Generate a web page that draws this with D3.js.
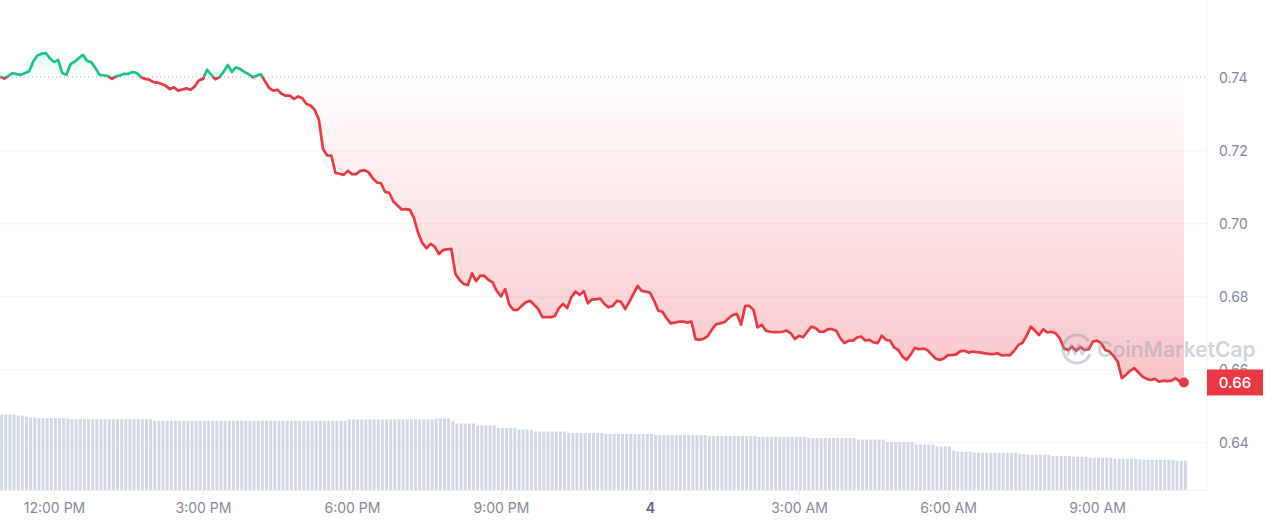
<!DOCTYPE html>
<html><head><meta charset="utf-8">
<script src="https://cdn.jsdelivr.net/npm/d3@7"></script>
<style>
html,body{margin:0;padding:0;background:#fff;}
svg{display:block;font-family:Inter,"Noto Sans",sans-serif;}
</style>
</head><body>
<svg id="chart" width="1265" height="522"></svg>
<script>
// ---- data (5-minute candles, first at 10:55 AM on the 3rd) ----
const startTime = new Date(2024, 5, 3, 10, 55);
const stepMinutes = 5;
const openPrice = 0.7402;
const prices = [
0.7404,0.7398,0.7405,0.7413,0.7410,0.7408,0.7413,0.7418,0.7445,0.7461,
0.7466,0.7468,0.7454,0.7443,0.7449,0.7413,0.7408,0.7438,0.7444,0.7454,
0.7463,0.7446,0.7443,0.7427,0.7408,0.7407,0.7405,0.7397,0.7404,0.7407,
0.7411,0.7411,0.7416,0.7413,0.7402,0.7397,0.7395,0.7388,0.7387,0.7383,
0.7378,0.7369,0.7374,0.7365,0.7368,0.7371,0.7367,0.7376,0.7393,0.7397,
0.7422,0.7408,0.7396,0.7402,0.7417,0.7435,0.7416,0.7429,0.7424,0.7416,
0.7410,0.7402,0.7406,0.7410,0.7390,0.7372,0.7365,0.7367,0.7356,0.7351,
0.7351,0.7342,0.7349,0.7344,0.7328,0.7324,0.7312,0.7285,0.7205,0.7187,
0.7187,0.7139,0.7137,0.7134,0.7145,0.7136,0.7136,0.7145,0.7147,0.7141,
0.7125,0.7113,0.7111,0.7087,0.7085,0.7061,0.7050,0.7039,0.7040,0.7038,
0.7015,0.6974,0.6947,0.6933,0.6945,0.6937,0.6917,0.6928,0.6930,0.6931,
0.6862,0.6846,0.6835,0.6832,0.6864,0.6843,0.6858,0.6857,0.6846,0.6839,
0.6815,0.6801,0.6821,0.6778,0.6764,0.6764,0.6775,0.6785,0.6789,0.6778,
0.6766,0.6744,0.6744,0.6744,0.6747,0.6769,0.6780,0.6769,0.6799,0.6814,
0.6805,0.6816,0.6782,0.6793,0.6793,0.6795,0.6780,0.6771,0.6775,0.6789,
0.6786,0.6766,0.6786,0.6808,0.6830,0.6816,0.6814,0.6811,0.6789,0.6762,
0.6759,0.6741,0.6727,0.6729,0.6732,0.6732,0.6729,0.6732,0.6684,0.6682,
0.6685,0.6693,0.6711,0.6725,0.6727,0.6731,0.6741,0.6750,0.6753,0.6723,
0.6775,0.6775,0.6764,0.6716,0.6723,0.6707,0.6704,0.6703,0.6703,0.6704,
0.6707,0.6700,0.6684,0.6693,0.6689,0.6704,0.6718,0.6714,0.6704,0.6704,
0.6711,0.6711,0.6707,0.6686,0.6673,0.6680,0.6680,0.6688,0.6691,0.6680,
0.6682,0.6675,0.6673,0.6693,0.6682,0.6680,0.6661,0.6654,0.6636,0.6627,
0.6642,0.6660,0.6656,0.6658,0.6654,0.6642,0.6631,0.6627,0.6631,0.6640,
0.6640,0.6642,0.6651,0.6652,0.6647,0.6650,0.6648,0.6647,0.6645,0.6643,
0.6643,0.6645,0.6639,0.6640,0.6640,0.6652,0.6668,0.6674,0.6693,0.6718,
0.6707,0.6695,0.6711,0.6702,0.6704,0.6700,0.6686,0.6659,0.6654,0.6663,
0.6652,0.6662,0.6654,0.6656,0.6677,0.6680,0.6673,0.6654,0.6650,0.6638,
0.6622,0.6577,0.6586,0.6597,0.6604,0.6593,0.6581,0.6575,0.6572,0.6575,
0.6567,0.6570,0.6569,0.6570,0.6577,0.6567,0.6565
];
const volumes = [
75.3,75.3,75.3,75.3,74.5,74.5,73.3,72.5,72.5,71.7,
71.7,71.7,71.7,71.7,71.7,71.7,71.7,70.7,70.7,70.7,
70.7,70.7,70.7,70.7,70.7,70.7,70.7,70.7,70.7,70.7,
70.7,70.7,70.7,70.7,70.7,70.7,70.7,69.3,69.3,69.3,
69.3,69.3,69.3,69.3,69.3,69.3,69.3,69.3,69.3,69.3,
69.3,69.3,69.3,69.3,69.3,69.3,69.3,69.3,69.3,69.3,
69.3,69.3,69.3,69.3,69.3,69.3,69.3,69.3,69.3,69.3,
69.3,69.3,69.3,69.3,69.3,69.3,69.3,69.3,69.3,69.3,
69.3,69.3,69.3,69.3,70.5,70.5,70.5,70.5,70.5,70.5,
70.5,70.5,70.5,70.5,70.5,70.5,70.5,70.5,70.5,70.5,
70.5,70.5,70.5,70.5,70.5,71.5,71.5,71.5,71.5,68.5,
66.5,66.5,66.5,66.5,66.5,64.5,64.5,64.5,64.5,64.5,
62,62,62,62,62,60.5,60.5,60.5,60.5,58.5,
58.5,58.5,58.5,58.5,58.5,58.5,58.5,57,57,57,
57,57,57,57,57,57,56,56,56,56,
56,56,56,56,56,56,56,56,55,55,
55,55,55,55,55,55,55,55,55,55,
55,54,54,54,54,54,54,54,54,54,
54,54,54,53,53,53,53,53,53,53,
53,53,53,53,53,52,52,52,52,52,
52,52,52,52,52,52,52,50.5,50.5,50.5,
50.5,50.5,50.5,50.5,48,48,48,48,48,48,
48,45.5,45.5,45.5,45.5,45.5,43.5,43.5,43.5,43.5,
39.3,38.3,38.3,38.3,38.3,37.3,37.3,37.3,37.3,37.3,
37.3,37.3,37.3,37.3,37.3,37.3,36,36,35.3,35.3,
35.3,35.3,35.3,35.3,34,34,34,34,34,33.3,
33.3,33.3,33.3,32.3,32.3,32.3,32.3,32.3,32.3,31.3,
31.3,31.3,31.3,31.3,31.3,30.3,30.3,30.3,30.3,30.3,
30.3,30.3,30.3,30.3,29.3,29.3,29.3
];
const priceTicks = [0.64, 0.66, 0.68, 0.70, 0.72, 0.74];
const timeTickValues = [
  new Date(2024,5,3,12,0), new Date(2024,5,3,15,0), new Date(2024,5,3,18,0), new Date(2024,5,3,21,0),
  new Date(2024,5,4,0,0), new Date(2024,5,4,3,0), new Date(2024,5,4,6,0), new Date(2024,5,4,9,0)
];
const timeTickLabels = ["12:00 PM","3:00 PM","6:00 PM","9:00 PM","4","3:00 AM","6:00 AM","9:00 AM"];
const lastPriceLabel = "0.66";
const watermarkText = "CoinMarketCap";

// ---- build ----
const RED = "#ea3943", GREEN = "#16c784";
const data = prices.map((p, i) => ({ t: new Date(+startTime + i * stepMinutes * 60000), p, v: volumes[i] }));

const svg = d3.select("#chart");
const W = 1265, H = 522, plotRight = 1207, volBottom = 490;

const x = d3.scaleTime().domain([timeTickValues[0], timeTickValues[7]]).range([54, 1097]);
const y = d3.scaleLinear().domain([0.64, 0.74]).range([442.7, 77.8]);
const yv = d3.scaleLinear().domain([0, 100]).range([volBottom, volBottom - 100]);
const yBase = y(openPrice);

const defs = svg.append("defs");
defs.append("clipPath").attr("id", "clipAbove").append("rect")
  .attr("x", 0).attr("y", 0).attr("width", plotRight).attr("height", yBase);
defs.append("clipPath").attr("id", "clipBelow").append("rect")
  .attr("x", 0).attr("y", yBase).attr("width", plotRight).attr("height", H - yBase);

const minP = d3.min(prices), maxP = d3.max(prices);
const gRed = defs.append("linearGradient").attr("id", "gradRed")
  .attr("gradientUnits", "userSpaceOnUse").attr("x1", 0).attr("x2", 0)
  .attr("y1", yBase).attr("y2", y(minP));
gRed.append("stop").attr("offset", 0).attr("stop-color", RED).attr("stop-opacity", 0.0);
gRed.append("stop").attr("offset", 1).attr("stop-color", RED).attr("stop-opacity", 0.29);
const gGreen = defs.append("linearGradient").attr("id", "gradGreen")
  .attr("gradientUnits", "userSpaceOnUse").attr("x1", 0).attr("x2", 0)
  .attr("y1", y(maxP)).attr("y2", yBase);
gGreen.append("stop").attr("offset", 0).attr("stop-color", GREEN).attr("stop-opacity", 0.14);
gGreen.append("stop").attr("offset", 1).attr("stop-color", GREEN).attr("stop-opacity", 0.01);

// gridlines
svg.append("g").selectAll("line").data(priceTicks.filter(d => d < 0.74)).join("line")
  .attr("x1", 0).attr("x2", plotRight)
  .attr("y1", d => y(d)).attr("y2", d => y(d))
  .attr("stroke", "#f1f3f6").attr("stroke-width", 1);

// volume bars
const step = x(data[1].t) - x(data[0].t);
svg.append("g").selectAll("rect").data(data).join("rect")
  .attr("x", d => x(d.t))
  .attr("y", d => yv(d.v))
  .attr("width", step * 0.7)
  .attr("height", d => volBottom - yv(d.v))
  .attr("fill", "#cfd6e4");

// areas
const area = d3.area().x(d => x(d.t)).y0(yBase).y1(d => y(d.p));
svg.append("path").datum(data).attr("d", area).attr("fill", "url(#gradRed)").attr("clip-path", "url(#clipBelow)");
svg.append("path").datum(data).attr("d", area).attr("fill", "url(#gradGreen)").attr("clip-path", "url(#clipAbove)");

// dotted baseline
svg.append("line").attr("x1", 0).attr("x2", plotRight).attr("y1", yBase).attr("y2", yBase)
  .attr("stroke", "#a6acbd").attr("stroke-width", 1).attr("stroke-dasharray", "1,3");

// lines
const line = d3.line().x(d => x(d.t)).y(d => y(d.p));
svg.append("path").datum(data).attr("d", line).attr("fill", "none").attr("stroke", RED)
  .attr("stroke-width", 2.7).attr("stroke-linejoin", "round").attr("clip-path", "url(#clipBelow)");
svg.append("path").datum(data).attr("d", line).attr("fill", "none").attr("stroke", GREEN)
  .attr("stroke-width", 2.7).attr("stroke-linejoin", "round").attr("clip-path", "url(#clipAbove)");

// watermark
const wm = svg.append("g").attr("opacity", 0.42);
const lc = [1077, 349];
wm.append("path")
  .attr("transform", `translate(${lc[0]},${lc[1]})`)
  .attr("d", d3.arc().innerRadius(12.5).outerRadius(15.5).startAngle(Math.PI * 0.62).endAngle(Math.PI * 2.32)())
  .attr("fill", "#8a97ad");
wm.append("path")
  .attr("transform", `translate(${lc[0]},${lc[1]})`)
  .attr("d", "M-9,5 L-5.5,-4 L-2,5 L1.5,-4 L5,5 L7,2 L11,-2")
  .attr("fill", "none").attr("stroke", "#8a97ad").attr("stroke-width", 3).attr("stroke-linejoin", "round").attr("stroke-linecap", "round");
wm.append("text").attr("x", 1097).attr("y", 357).text(watermarkText)
  .attr("font-size", 21).attr("font-weight", 600).attr("fill", "#8a97ad");

// plot frame lines
svg.append("line").attr("x1", plotRight).attr("x2", plotRight).attr("y1", 0).attr("y2", volBottom + 1)
  .attr("stroke", "#eff2f5");
svg.append("line").attr("x1", 0).attr("x2", plotRight).attr("y1", volBottom + 0.5).attr("y2", volBottom + 0.5)
  .attr("stroke", "#eff2f5");

// x axis
const xAxis = svg.append("g").attr("transform", `translate(0,${volBottom + 1})`)
  .call(d3.axisBottom(x).tickValues(timeTickValues).tickFormat((d, i) => timeTickLabels[i]).tickSize(4).tickPadding(8));
xAxis.select(".domain").remove();
xAxis.selectAll(".tick line").attr("stroke", "#eff2f5");
xAxis.selectAll(".tick text")
  .attr("font-family", "Inter, 'Noto Sans', sans-serif").attr("font-size", 14)
  .attr("fill", (d, i) => timeTickLabels[i] === "4" ? "#58667e" : "#808a9d")
  .attr("font-weight", (d, i) => timeTickLabels[i] === "4" ? 600 : 400);

// y axis
const yAxis = svg.append("g").attr("transform", `translate(${plotRight},0)`)
  .call(d3.axisRight(y).tickValues(priceTicks).tickFormat(d3.format(".2f")).tickSize(0).tickPadding(12));
yAxis.select(".domain").remove();
yAxis.selectAll(".tick text")
  .attr("font-family", "Inter, 'Noto Sans', sans-serif").attr("font-size", 14).attr("fill", "#808a9d");

// last point dot and price tag
const last = data[data.length - 1];
svg.append("circle").attr("cx", x(last.t)).attr("cy", y(last.p)).attr("r", 5).attr("fill", RED);
const tagY = y(last.p);
svg.append("rect").attr("x", plotRight).attr("y", tagY - 13).attr("width", 56).attr("height", 26).attr("fill", RED);
svg.append("text").attr("x", plotRight + 28).attr("y", tagY).attr("dy", "0.36em")
  .attr("text-anchor", "middle").attr("font-size", 15).attr("font-weight", 500).attr("fill", "#fff")
  .text(lastPriceLabel);
</script>
</body></html>
